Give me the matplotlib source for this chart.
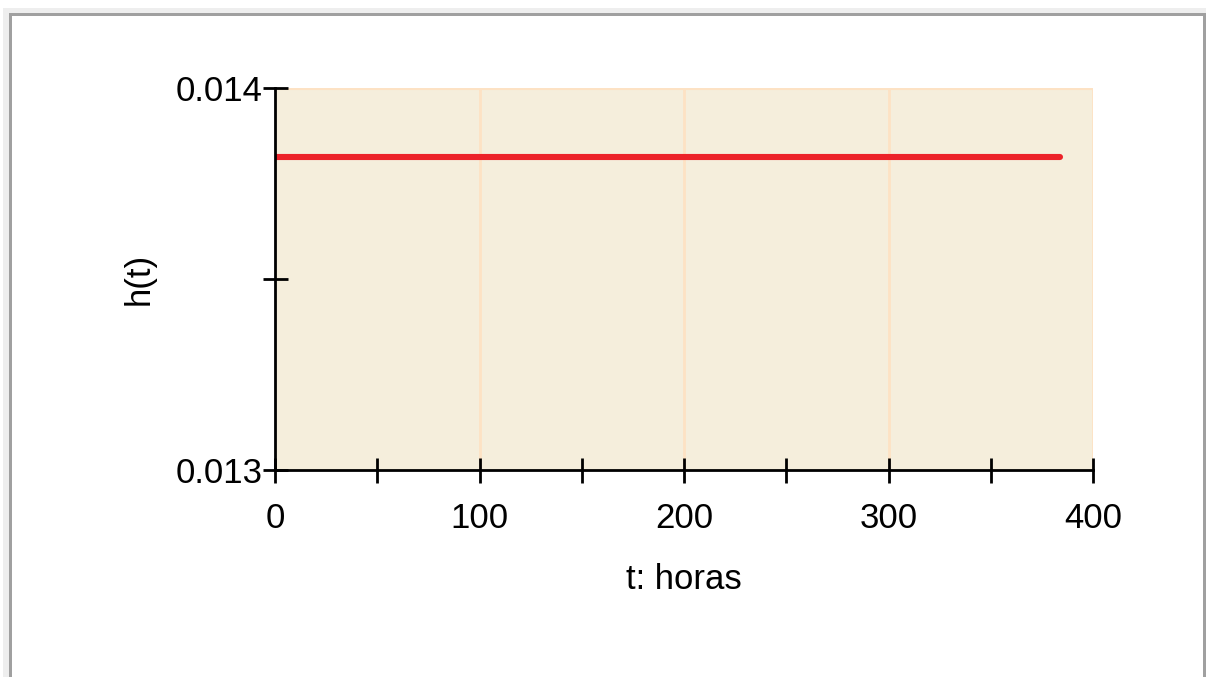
import matplotlib
matplotlib.use('Agg')
from matplotlib import pyplot as plt
from matplotlib.patches import Rectangle

plt.rcParams['font.family'] = ['Liberation Sans', 'DejaVu Sans']

# datos: h(t) constante
t = [0, 384]
h = [0.013819, 0.013819]

xticks = [0, 50, 100, 150, 200, 250, 300, 350, 400]
xlabels = ['0', '', '100', '', '200', '', '300', '', '400']
yticks = [0.013, 0.0135, 0.014]
ylabels = ['0.013', '', '0.014']

fig = plt.figure(figsize=(12.09, 6.77), dpi=100)
W, H = 1209, 677

# marco tipo ventana
fig.patches.append(Rectangle((3 / W, 0), (1206 - 3) / W, (677 - 8) / H, transform=fig.transFigure,
                             facecolor='#eeeeee', edgecolor='none', zorder=-3))
fig.patches.append(Rectangle((9 / W, 0), (1206 - 9) / W, (677 - 13) / H, transform=fig.transFigure,
                             facecolor='#a0a0a0', edgecolor='none', zorder=-2))
fig.patches.append(Rectangle((12 / W, 0), (1203 - 12) / W, (677 - 16) / H, transform=fig.transFigure,
                             facecolor='white', edgecolor='none', zorder=-1))

ax = fig.add_axes([275 / W, (677 - 470) / H, (1093 - 275) / W, (470 - 88) / H])
ax.set_facecolor('#f5eedc')
ax.plot(t, h, color='#ec2229', linewidth=4.4, solid_capstyle='round', zorder=3)

ax.set_xlim(0, 400)
ax.set_ylim(0.013, 0.014)
ax.set_xticks(xticks)
ax.set_xticklabels(xlabels)
ax.set_yticks(yticks)
ax.set_yticklabels(ylabels)

for x in [100, 200, 300, 400]:
    ax.axvline(x, color='#fde2c4', linewidth=2, zorder=1)
ax.axhline(0.014, color='#fde2c4', linewidth=3, zorder=1)

for s in ['top', 'right']:
    ax.spines[s].set_visible(False)
for s in ['left', 'bottom']:
    ax.spines[s].set_linewidth(2)
    ax.spines[s].set_zorder(4)

ax.tick_params(axis='both', direction='inout', length=18, width=2, labelsize=25)
ax.tick_params(axis='x', pad=14)
ax.tick_params(axis='y', pad=0)
ax.set_xlabel('t: horas', fontsize=25, labelpad=20)
ax.set_ylabel('h(t)', fontsize=25, labelpad=14)

fig.savefig('out.png', dpi=100)
